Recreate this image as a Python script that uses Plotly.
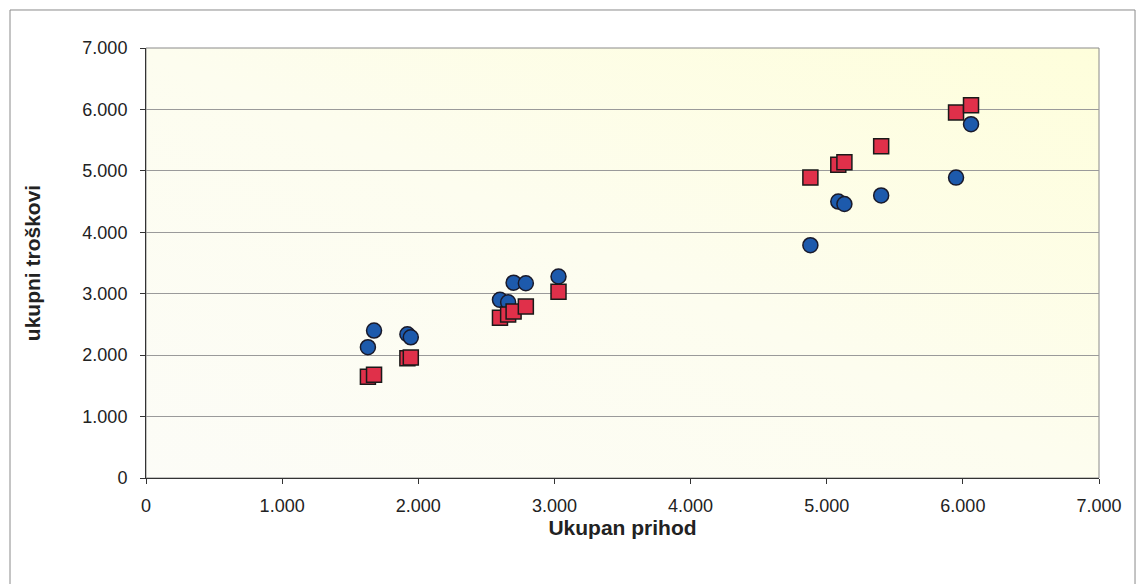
"""
Ukupan prihod vs. ukupni troškovi - scatter (blue circles / red squares).
"""
import base64
import plotly.graph_objects as go

# revenue (x) for each observation
prihod = [1630, 1675, 1920, 1945, 2600, 2660, 2700, 2790, 3030,
          4880, 5085, 5130, 5400, 5950, 6060]
# blue circles
troskovi_plavi = [2130, 2400, 2340, 2290, 2900, 2860, 3180, 3170, 3280,
                  3790, 4500, 4460, 4600, 4890, 5760]
# red squares
troskovi_crveni = [1650, 1680, 1950, 1960, 2610, 2660, 2710, 2790, 3030,
                   4890, 5100, 5140, 5400, 5950, 6070]

tick_vals = [0, 1000, 2000, 3000, 4000, 5000, 6000, 7000]

FONT = "Liberation Sans, Arial, sans-serif"

# pale yellow gradient for the plot area (Excel-style fill)
svg = (
    '<svg xmlns="http://www.w3.org/2000/svg" width="100" height="100" '
    'preserveAspectRatio="none">'
    '<defs><linearGradient id="g" x1="0" y1="1" x2="1" y2="0">'
    '<stop offset="0" stop-color="#fcfcf7"/>'
    '<stop offset="0.5" stop-color="#fdfdef"/>'
    '<stop offset="1" stop-color="#fefedb"/>'
    '</linearGradient></defs>'
    '<rect width="100" height="100" fill="url(#g)"/></svg>'
)
bg_src = "data:image/svg+xml;base64," + base64.b64encode(svg.encode()).decode()

fig = go.Figure()

fig.add_trace(go.Scatter(
    x=prihod,
    y=troskovi_plavi,
    mode="markers",
    name="Troškovi",
    marker=dict(symbol="circle", size=15, color="#1d5aac",
                line=dict(color="#1a1a2a", width=1.5)),
))

fig.add_trace(go.Scatter(
    x=prihod,
    y=troskovi_crveni,
    mode="markers",
    name="Prihod",
    marker=dict(symbol="square", size=15, color="#e0304a",
                line=dict(color="#1a1a1a", width=1.5)),
))

fig.update_layout(
    width=1137,
    height=584,
    showlegend=False,
    separators=",.",
    font=dict(family=FONT, size=18, color="#222222"),
    paper_bgcolor="white",
    plot_bgcolor="rgba(0,0,0,0)",
    margin=dict(l=146, r=38, t=48, b=106),
    images=[dict(
        source=bg_src, xref="paper", yref="paper", x=0, y=1,
        sizex=1, sizey=1, sizing="stretch", layer="below",
        xanchor="left", yanchor="top",
    )],
    xaxis=dict(
        range=[0, 7000],
        tickvals=tick_vals,
        tickformat=",d",
        showgrid=False,
        zeroline=False,
        showline=True,
        linecolor="#333333",
        linewidth=1,
        ticks="outside",
        ticklen=5,
        tickcolor="#333333",
        tickfont=dict(size=18),
        ticklabelstandoff=6,
        title=dict(text="<b>Ukupan prihod</b>", font=dict(size=21), standoff=1),
    ),
    yaxis=dict(
        range=[0, 7000],
        tickvals=tick_vals,
        tickformat=",d",
        showgrid=True,
        gridcolor="#9a9a9a",
        gridwidth=1,
        zeroline=False,
        showline=True,
        linecolor="#333333",
        linewidth=1,
        ticks="outside",
        ticklen=5,
        tickcolor="#333333",
        tickfont=dict(size=18),
        ticklabelstandoff=9,
        title=dict(text="<b>ukupni troškovi</b>", font=dict(size=21), standoff=36),
    ),
    shapes=[
        # plot area border (top / right)
        dict(type="rect", xref="paper", yref="paper", x0=0, x1=1, y0=0, y1=1,
             line=dict(color="#8a8a8a", width=1), layer="below"),
        # outer chart frame
        dict(type="rect", xref="paper", yref="paper",
             x0=-0.1427, x1=1.0378, y0=-0.27, y1=1.0884,
             line=dict(color="#8a8a8a", width=1)),
    ],
)

fig.write_html("out.html", config={"displayModeBar": False},
               post_script="document.body.style.margin='0';")
